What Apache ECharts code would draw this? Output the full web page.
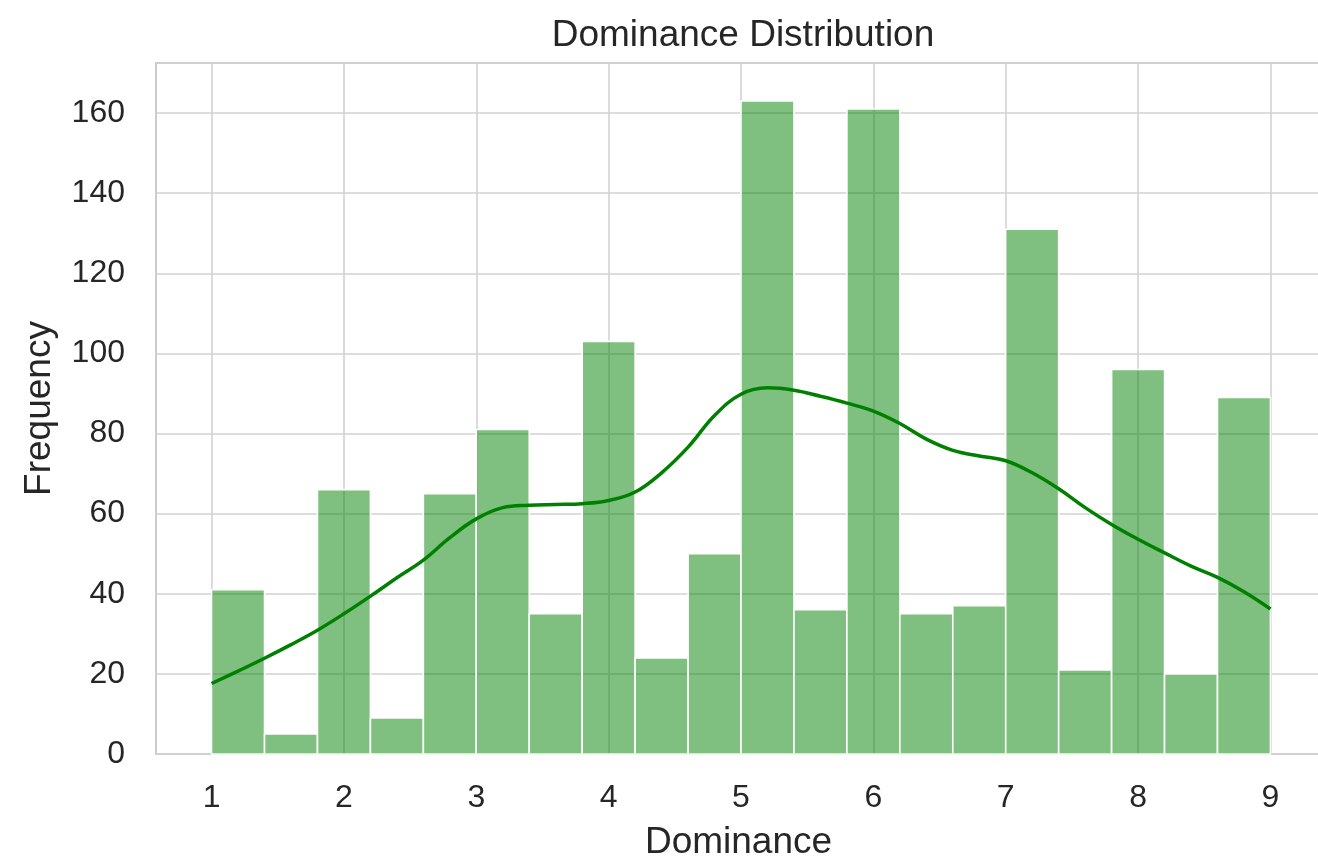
<!DOCTYPE html>
<html>
<head>
<meta charset="utf-8">
<title>Dominance Distribution</title>
<script src="https://cdn.jsdelivr.net/npm/echarts@6/dist/echarts.min.js"></script>
<style>
  html, body { margin: 0; padding: 0; background: #ffffff; }
  #chart { width: 1318px; height: 864px; }
</style>
</head>
<body>
<div id="chart"></div>
<script>
// Histogram bins (left edge of each 0.4-wide bin) and their counts
const binLeft = [1.0, 1.4, 1.8, 2.2, 2.6, 3.0, 3.4, 3.8, 4.2, 4.6,
                 5.0, 5.4, 5.8, 6.2, 6.6, 7.0, 7.4, 7.8, 8.2, 8.6];
const binWidth = 0.4;
const counts = [41, 5, 66, 9, 65, 81, 35, 103, 24, 50,
                163, 36, 161, 35, 37, 131, 21, 96, 20, 89];

// Kernel density estimate, scaled to counts
const kdeX = [1.0, 1.2, 1.4, 1.6, 1.8, 2.0, 2.2, 2.4, 2.6, 2.8,
              3.0, 3.2, 3.4, 3.6, 3.8, 4.0, 4.2, 4.4, 4.6, 4.8,
              5.0, 5.2, 5.4, 5.6, 5.8, 6.0, 6.2, 6.4, 6.6, 6.8,
              7.0, 7.2, 7.4, 7.6, 7.8, 8.0, 8.2, 8.4, 8.6, 8.8, 9.0];
const kdeY = [17.6, 20.7, 23.9, 27.3, 30.9, 35.0, 39.4, 44.0, 48.4, 54.0,
              58.7, 61.5, 62.1, 62.3, 62.5, 63.3, 65.4, 70.2, 76.6, 84.5,
              89.8, 91.4, 90.8, 89.3, 87.6, 85.6, 82.5, 78.6, 75.8, 74.4,
              73.2, 70.2, 66.2, 61.5, 57.3, 53.6, 50.2, 46.9, 44.1, 40.5, 36.2];

// Axis ticks
const xTicks = [1, 2, 3, 4, 5, 6, 7, 8, 9];

const FONT = '"Liberation Sans", Arial, Helvetica, sans-serif';
const TEXT = '#262626';
const GRID = '#d2d2d2';

const chart = echarts.init(document.getElementById('chart'), null, { renderer: 'canvas' });

const barData = binLeft.map((x, i) => [x, x + binWidth, counts[i]]);
const kdeData = kdeX.map((x, i) => [x, kdeY[i]]);

chart.setOption({
  animation: false,
  backgroundColor: '#ffffff',
  title: {
    text: 'Dominance Distribution',
    left: 738,
    textAlign: 'center',
    top: 12,
    textStyle: { fontFamily: FONT, fontSize: 37, fontWeight: 'normal', color: TEXT }
  },
  grid: {
    left: 156,
    top: 63,
    width: 1165,
    height: 691,
    outerBoundsMode: 'none',
    containLabel: false,
    show: true,
    borderColor: '#cccccc',
    borderWidth: 2,
    backgroundColor: 'transparent'
  },
  xAxis: {
    type: 'value',
    min: 0.58,
    max: 9.382,
    name: 'Dominance',
    nameLocation: 'middle',
    nameGap: 70,
    nameTextStyle: { fontFamily: FONT, fontSize: 37, color: TEXT },
    axisLine: { show: false },
    axisTick: { show: false, customValues: xTicks },
    axisLabel: {
      customValues: xTicks,
      margin: 28,
      fontFamily: FONT, fontSize: 32, color: TEXT
    },
    splitLine: { show: true, lineStyle: { color: GRID, width: 1.6 } }
  },
  yAxis: {
    type: 'value',
    min: 0,
    max: 172.5,
    interval: 20,
    name: 'Frequency',
    nameLocation: 'middle',
    nameGap: 98,
    nameTextStyle: { fontFamily: FONT, fontSize: 37, color: TEXT },
    axisLine: { show: false },
    axisTick: { show: false },
    axisLabel: { margin: 31, fontFamily: FONT, fontSize: 32, color: TEXT, showMaxLabel: false },
    splitLine: { show: true, lineStyle: { color: GRID, width: 1.6 } }
  },
  series: [
    {
      type: 'custom',
      name: 'count',
      data: barData,
      encode: { x: [0, 1], y: 2 },
      z: 2,
      renderItem: function (params, api) {
        const p0 = api.coord([api.value(0), api.value(2)]);
        const p1 = api.coord([api.value(1), 0]);
        return {
          type: 'rect',
          shape: { x: p0[0], y: p0[1], width: p1[0] - p0[0], height: p1[1] - p0[1] },
          style: {
            fill: 'rgba(0, 128, 0, 0.5)',
            stroke: '#ffffff',
            lineWidth: 1.6
          }
        };
      }
    },
    {
      type: 'line',
      name: 'kde',
      data: kdeData,
      smooth: 0.4,
      showSymbol: false,
      symbol: 'none',
      z: 3,
      lineStyle: { color: '#008000', width: 3.5 }
    }
  ]
});
</script>
</body>
</html>
